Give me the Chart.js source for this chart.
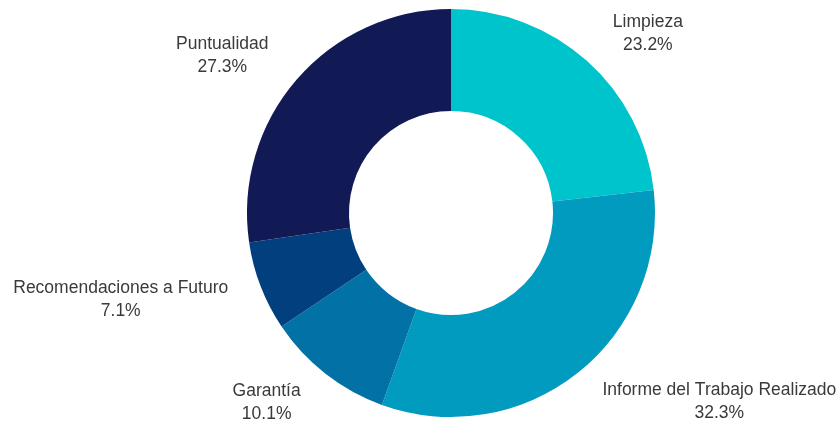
<!DOCTYPE html>
<html>
<head>
<meta charset="utf-8">
<script src="https://cdn.jsdelivr.net/npm/chart.js@4"></script>
<style>
  html, body { margin: 0; padding: 0; background: #fff; }
  #wrap { width: 837px; height: 435px; }
</style>
</head>
<body>
<div id="wrap"><canvas id="myChart"></canvas></div>
<script>
var categories = ["Limpieza", "Informe del Trabajo Realizado", "Garantía", "Recomendaciones a Futuro", "Puntualidad"];
var percents = [23.2, 32.3, 10.1, 7.1, 27.3];
var sliceColors = ["#00c4cc", "#029bc0", "#0271a6", "#023f7e", "#121a56"];

// labels outside the ring, name on top and percentage below
var outsideLabels = {
  id: "outsideLabels",
  afterDatasetsDraw: function(chart) {
    var ctx = chart.ctx;
    var arcs = chart.getDatasetMeta(0).data;
    ctx.save();
    ctx.font = "17.5px 'Liberation Sans', Arial, sans-serif";
    ctx.fillStyle = "#3a3a3a";
    ctx.textBaseline = "middle";
    ctx.textAlign = "center";
    var lineH = 23;
    for (var i = 0; i < arcs.length; i++) {
      var a = arcs[i];
      var mid = (a.startAngle + a.endAngle) / 2;
      var dx = Math.cos(mid), dy = Math.sin(mid);
      var r = a.outerRadius + 24;
      var ax = a.x + dx * r, ay = a.y + dy * r;
      var lines = [categories[i], percents[i].toFixed(1) + "%"];
      var w = Math.max(ctx.measureText(lines[0]).width, ctx.measureText(lines[1]).width);
      var cx = ax + (dx >= 0 ? 1 : -1) * (w / 2 + 10);
      var cy = ay + dy * 13;
      ctx.fillText(lines[0], cx, cy - lineH / 2);
      ctx.fillText(lines[1], cx, cy + lineH / 2);
    }
    ctx.restore();
  }
};

new Chart("myChart", {
  type: "doughnut",
  data: {
    labels: categories,
    datasets: [{
      data: percents,
      backgroundColor: sliceColors,
      borderWidth: 0
    }]
  },
  options: {
    responsive: true,
    maintainAspectRatio: false,
    animation: false,
    cutout: "50%",
    layout: { padding: { top: 9, bottom: 18, left: 65, right: 0 } },
    plugins: {
      legend: { display: false },
      tooltip: { enabled: false }
    }
  },
  plugins: [outsideLabels]
});
</script>
</body>
</html>
